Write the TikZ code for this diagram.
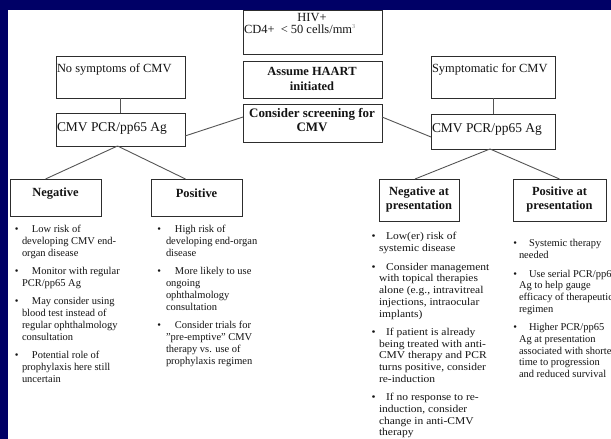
\documentclass[tikz,border=0pt]{standalone}
\usepackage{fontspec}
\setmainfont{Liberation Serif}
\usepackage{graphicx}
\definecolor{navy}{RGB}{0,0,102}
\definecolor{ink}{RGB}{20,20,20}
\definecolor{edge}{RGB}{45,45,45}
\definecolor{wire}{RGB}{85,85,85}
\newcommand\mkbox[5]{\node[bx, anchor=north west, minimum width={(#4-#2)*1bp}, minimum height={(#5-#3)*1bp}] (#1) at (#2,#3) {};}
\newcommand\bul[1]{\llap{\textbullet\hspace{#1}}}
\begin{document}
\begin{tikzpicture}[x=1bp,y=-1bp,
  bx/.style={draw=edge, line width=0.9bp, inner sep=0pt, outer sep=0pt, fill=white},
  conn/.style={draw=wire, line width=0.9bp},
  txt/.style={inner sep=0pt, outer sep=0pt, text=ink},
  boxtxt/.style={txt, font=\fontsize{12.5}{13}\selectfont},
  head/.style={txt, align=center, font=\bfseries\fontsize{12.5}{14.5}\selectfont},
  leftcol/.style={txt, anchor=base west, font=\fontsize{10.5}{12}\selectfont},
  rightcol/.style={txt, anchor=base west, font=\fontsize{10.5}{11.8}\selectfont}]
\useasboundingbox (0,0) rectangle (611,439);
\fill[navy] (0,0) rectangle (611,439);
\clip (0,0) rectangle (611,439);
\fill[white] (8,10) rectangle (611,439);

% boxes
\mkbox{hiv}{243}{10}{382}{54}
\mkbox{haart}{243}{61}{382}{98}
\mkbox{screen}{243}{104}{382}{142}
\mkbox{nosym}{56}{56}{185}{98}
\mkbox{cmvL}{56}{113}{185}{146}
\mkbox{sym}{431}{56}{555}{98}
\mkbox{cmvR}{431}{114}{555}{149}
\mkbox{neg}{10}{179}{101}{216}
\mkbox{pos}{151}{179}{242}{216}
\mkbox{negp}{379}{179}{459}{221}
\mkbox{posp}{513}{179}{606}{221}

% connectors
\draw[conn] (nosym.south) -- (cmvL.north);
\draw[conn] (sym.south) -- (cmvR.north);
\draw[conn] ([yshift=6bp]screen.west) -- ([yshift=-6.5bp]cmvL.east);
\draw[conn] ([yshift=6bp]screen.east) -- ([yshift=-5.5bp]cmvR.west);
\draw[conn] ([xshift=-3bp]cmvL.south) -- ([xshift=-10bp]neg.north);
\draw[conn] ([xshift=-3bp]cmvL.south) -- ([xshift=-11bp]pos.north);
\draw[conn] ([xshift=-3bp]cmvR.south) -- ([xshift=-4bp]negp.north);
\draw[conn] ([xshift=-3bp]cmvR.south) -- (posp.north);

% box texts
\node[boxtxt, anchor=base] (hivA) at (312,21.5) {HIV+};
\node[boxtxt, anchor=base west] (hivB) at (244,33.5) {CD4+ \ < 50 cells/mm{\fontsize{6}{6}\selectfont\raisebox{4.5bp}{\color{gray}3}}};
\node[head] (haartT) at (312,79) {Assume HAART\\initiated};
\node[head, font=\bfseries\fontsize{13}{14.5}\selectfont] (screenT) at (312,120) {Consider screening for\\CMV};
\node[txt, anchor=base west, font=\fontsize{12.5}{14}\selectfont] (nosymT) at (57,73) {No symptoms of CMV};
\node[txt, anchor=base west, font=\fontsize{12.5}{14}\selectfont] (symT) at (432,73) {Symptomatic for CMV};
\node[txt, anchor=base west, font=\fontsize{13.5}{15}\selectfont] (cmvLT) at (57,132) {CMV PCR/pp65 Ag};
\node[txt, anchor=base west, font=\fontsize{13.5}{15}\selectfont] (cmvRT) at (432,133) {CMV PCR/pp65 Ag};
\node[head] (negT) at (55.5,193.5) {Negative};
\node[head] (posT) at (196.5,193.5) {Positive};
\node[head, font=\bfseries\fontsize{12.5}{15}\selectfont] (negpT) at (419,199.5) {Negative at\\presentation};
\node[head, font=\bfseries\fontsize{12.5}{15}\selectfont] (pospT) at (559.5,199.5) {Positive at\\presentation};

% bullet columns
\node[leftcol] (c1) at (22,233) {\begin{tabular}[t]{@{}l@{}}
\bul{3.5bp}\hspace{10bp}Low risk of\\
developing CMV end-\\
organ disease\\[6bp]
\bul{3.5bp}\hspace{10bp}Monitor with regular\\
PCR/pp65 Ag\\[6bp]
\bul{3.5bp}\hspace{10bp}May consider using\\
blood test instead of\\
regular ophthalmology\\
consultation\\[6bp]
\bul{3.5bp}\hspace{10bp}Potential role of\\
prophylaxis here still\\
uncertain
\end{tabular}};

\node[leftcol] (c2) at (166,233) {\begin{tabular}[t]{@{}l@{}}
\bul{5bp}\hspace{9bp}High risk of\\
developing end-organ\\
disease\\[6bp]
\bul{5bp}\hspace{9bp}More likely to use\\
ongoing\\
ophthalmology\\
consultation\\[6bp]
\bul{5bp}\hspace{9bp}Consider trials for\\
"pre-emptive" CMV\\
therapy vs. use of\\
prophylaxis regimen
\end{tabular}};

\node[rightcol] (c3) at (379,240) {\scalebox{1.1}[1]{\begin{tabular}[t]{@{}l@{}}
\bul{3bp}\hspace{6.5bp}Low(er) risk of\\
systemic disease\\[6.5bp]
\bul{3bp}\hspace{6.5bp}Consider management\\
with topical therapies\\
alone (e.g., intravitreal\\
injections, intraocular\\
implants)\\[6.5bp]
\bul{3bp}\hspace{6.5bp}If patient is already\\
being treated with anti-\\
CMV therapy and PCR\\
turns positive, consider\\
re-induction\\[6.5bp]
\bul{3bp}\hspace{6.5bp}If no response to re-\\
induction, consider\\
change in anti-CMV\\
therapy
\end{tabular}}};

\node[rightcol] (c4) at (519,247) {\begin{tabular}[t]{@{}l@{}}
\bul{2bp}\hspace{10bp}Systemic therapy\\
needed\\[6.5bp]
\bul{2bp}\hspace{10bp}Use serial PCR/pp65\\
Ag to help gauge\\
efficacy of therapeutic\\
regimen\\[6.5bp]
\bul{2bp}\hspace{10bp}Higher PCR/pp65\\
Ag at presentation\\
associated with shorter\\
time to progression\\
and reduced survival
\end{tabular}};
\end{tikzpicture}
\end{document}
